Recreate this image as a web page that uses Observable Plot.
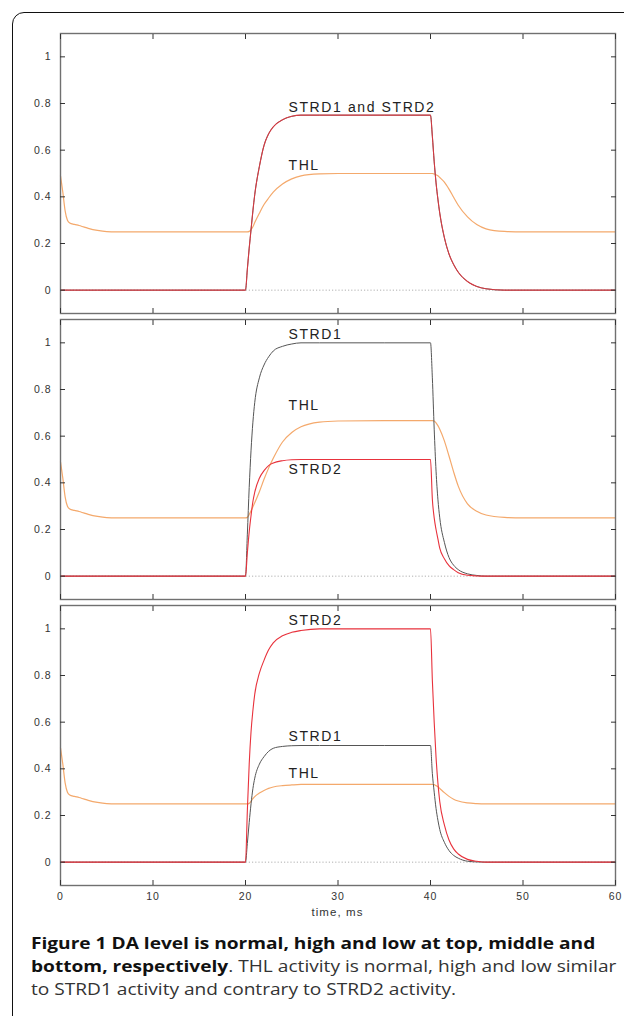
<!DOCTYPE html>
<html>
<head>
<meta charset="utf-8">
<script src="https://cdn.jsdelivr.net/npm/d3@7"></script>
<script src="https://cdn.jsdelivr.net/npm/@observablehq/plot@0.6"></script>
<style>
  html, body { margin: 0; padding: 0; background: #fff; }
  body { width: 624px; height: 1016px; overflow: hidden; position: relative; font-family: "Liberation Sans", Arial, sans-serif; }
  #border { position: absolute; left: 12px; top: 12px; width: 720px; height: 1100px; border: 1.6px solid #111; border-radius: 12px; box-sizing: border-box; }
  .panel { position: absolute; left: 0; }
  .panel svg { background: transparent !important; overflow: visible; }
  .panel g[aria-label="text"] text { letter-spacing: 1.6px; }
  .panel g[aria-label="y-axis tick label"] text,
  .panel g[aria-label="x-axis tick label"] text { letter-spacing: 1px; }
  #xlabel { position: absolute; left: 60px; width: 555px; top: 906px; text-align: center; font-size: 11.5px; letter-spacing: 1.1px; color: #333; }
  #caption { position: absolute; left: 31px; top: 931px; font-family: "Open Sans", sans-serif; font-size: 16.5px; line-height: 23px; color: #333; transform-origin: 0 0; white-space: nowrap; }
  #caption b { color: #111; font-weight: 700; }
</style>
</head>
<body>
<div id="border"></div>
<div id="p1" class="panel" style="top:23px"></div>
<div id="p2" class="panel" style="top:316px"></div>
<div id="p3" class="panel" style="top:601px"></div>
<div id="xlabel">time, ms</div>
<div id="caption">
  <div id="cl1"><b>Figure 1 DA level is normal, high and low at top, middle and</b></div>
  <div><b>bottom, respectively</b>. THL activity is normal, high and low similar</div>
  <div>to STRD1 activity and contrary to STRD2 activity.</div>
</div>
<script>
// time axis, ms
const time = [0, 0.25, 0.5, 0.75, 1, 1.5, 2, 2.5, 3, 4, 5, 6, 10, 15, 20,
  20.2, 20.4, 20.6, 20.8, 21, 21.5, 22, 22.5, 23, 24, 25, 26,
  28, 30, 35, 40,
  40.2, 40.4, 40.6, 40.8, 41, 41.5, 42, 42.5, 43, 44, 45, 46, 48, 50, 55, 60];

// Top panel: normal DA
const topSTRD1 = [0,0,0,0,0,0,0,0,0,0,0,0,0,0,0,
  0.09,0.18,0.26,0.34,0.41,0.53,0.62,0.67,0.70,0.73,0.745,0.75,
  0.75,0.75,0.75,0.75,
  0.66,0.55,0.46,0.39,0.33,0.225,0.155,0.11,0.077,0.037,0.016,0.006,0,0,0,0];
const topSTRD2 = [0,0,0,0,0,0,0,0,0,0,0,0,0,0,0,
  0.09,0.18,0.26,0.34,0.41,0.53,0.62,0.67,0.70,0.73,0.745,0.75,
  0.75,0.75,0.75,0.75,
  0.66,0.55,0.46,0.39,0.33,0.225,0.155,0.11,0.077,0.037,0.016,0.006,0,0,0,0];
const topTHL = [0.49,0.42,0.34,0.30,0.288,0.282,0.277,0.271,0.265,0.256,0.251,0.25,0.25,0.25,0.25,
  0.25,0.252,0.26,0.272,0.29,0.33,0.367,0.395,0.42,0.455,0.477,0.49,
  0.498,0.5,0.5,0.5,
  0.5,0.498,0.495,0.49,0.483,0.463,0.433,0.398,0.364,0.314,0.281,0.263,0.252,0.25,0.25,0.25];

// Middle panel: high DA
const midSTRD1 = [0,0,0,0,0,0,0,0,0,0,0,0,0,0,0,
  0.18,0.38,0.54,0.66,0.745,0.85,0.905,0.94,0.965,0.985,0.995,1,
  1,1,1,1,
  0.85,0.63,0.45,0.33,0.25,0.145,0.08,0.047,0.028,0.01,0.003,0,0,0,0,0];
const midSTRD2 = [0,0,0,0,0,0,0,0,0,0,0,0,0,0,0,
  0.1,0.19,0.26,0.32,0.36,0.42,0.452,0.474,0.485,0.495,0.499,0.5,
  0.5,0.5,0.5,0.5,
  0.33,0.25,0.2,0.16,0.12,0.075,0.045,0.028,0.015,0.004,0.001,0,0,0,0,0];
const midTHL = [0.49,0.42,0.34,0.30,0.288,0.282,0.277,0.271,0.265,0.256,0.251,0.25,0.25,0.25,0.25,
  0.252,0.265,0.28,0.298,0.315,0.362,0.415,0.463,0.505,0.575,0.616,0.64,
  0.66,0.665,0.667,0.667,
  0.667,0.665,0.657,0.645,0.63,0.58,0.515,0.447,0.386,0.31,0.278,0.262,0.252,0.25,0.25,0.25];

// Bottom panel: low DA
const botSTRD1 = [0,0,0,0,0,0,0,0,0,0,0,0,0,0,0,
  0.08,0.17,0.25,0.315,0.36,0.42,0.452,0.475,0.488,0.496,0.499,0.5,
  0.5,0.5,0.5,0.5,
  0.38,0.3,0.23,0.18,0.14,0.085,0.05,0.029,0.017,0.004,0.001,0,0,0,0,0];
const botSTRD2 = [0,0,0,0,0,0,0,0,0,0,0,0,0,0,0,
  0.22,0.42,0.56,0.65,0.72,0.81,0.865,0.91,0.94,0.97,0.985,0.993,
  1,1,1,1,
  0.78,0.6,0.45,0.34,0.26,0.16,0.095,0.057,0.035,0.012,0.004,0,0,0,0,0];
const botTHL = [0.49,0.42,0.34,0.30,0.288,0.282,0.277,0.271,0.265,0.256,0.251,0.25,0.25,0.25,0.25,
  0.25,0.252,0.261,0.272,0.281,0.296,0.307,0.316,0.322,0.328,0.331,0.333,
  0.333,0.333,0.333,0.333,
  0.333,0.332,0.328,0.323,0.316,0.298,0.282,0.27,0.262,0.254,0.251,0.25,0.25,0.25,0.25,0.25];

// curve labels
const topLabels = [{t: 24.65, v: 0.784, text: "STRD1 and STRD2"}, {t: 24.65, v: 0.536, text: "THL"}];
const midLabels = [{t: 24.65, v: 1.036, text: "STRD1"}, {t: 24.65, v: 0.732, text: "THL"}, {t: 24.65, v: 0.457, text: "STRD2"}];
const botLabels = [{t: 24.65, v: 1.036, text: "STRD2"}, {t: 24.65, v: 0.539, text: "STRD1"}, {t: 24.65, v: 0.381, text: "THL"}];

// ticks
const xTicks = [0, 10, 20, 30, 40, 50, 60];
const xTickLabels = ["0", "10", "20", "30", "40", "50", "60"];
const yTicks = [0, 0.2, 0.4, 0.6, 0.8, 1];
const yTickLabels = ["0", "0.2", "0.4", "0.6", "0.8", "1"];

const RED = "#e8323c", GRAY = "#555555", ORANGE = "#f4a96c";

function panel(el, s1, s2, thl, labels, {marginTop, marginBottom, xLabels, overlap}) {
  const data = time.map((t, i) => ({t, s1: s1[i], s2: s2[i], h: thl[i]}));
  const marks = [
    Plot.ruleY([0], {stroke: "#9a9a9a", strokeDasharray: "1.2,2", strokeWidth: 0.8}),
    Plot.lineY(data, {x: "t", y: "h", stroke: ORANGE, strokeWidth: 1.2, curve: "monotone-x"}),
    Plot.lineY(data, {x: "t", y: "s1", stroke: GRAY, strokeWidth: 1, curve: "monotone-x"}),
    Plot.lineY(data, {x: "t", y: "s2", stroke: RED, strokeWidth: 1.1, strokeOpacity: overlap ? 0.85 : 1, curve: "monotone-x"}),
    Plot.text(labels, {x: "t", y: "v", text: "text", textAnchor: "start", fontSize: 14, fill: "#222"}),
    Plot.frame({stroke: "#707070", strokeWidth: 1.4}),
    Plot.axisY(yTicks, {anchor: "left", tickSize: 0, tickPadding: 9, fontSize: 10.5, label: null,
      tickFormat: d => yTickLabels[yTicks.indexOf(d)]}),
    Plot.axisY(yTicks, {anchor: "left", tickSize: 5, dx: 5, label: null, tickFormat: () => ""}),
    Plot.axisY(yTicks, {anchor: "right", tickSize: 5, dx: -5, label: null, tickFormat: () => ""}),
    Plot.axisX(xTicks, {anchor: "top", tickSize: 5, dy: 5, label: null, tickFormat: () => ""}),
    Plot.axisX(xTicks, {anchor: "bottom", tickSize: 5, dy: -5, label: null, tickFormat: () => ""})
  ];
  if (xLabels) {
    marks.push(Plot.axisX(xTicks, {anchor: "bottom", tickSize: 0, tickPadding: 7, fontSize: 10.5, label: null,
      tickFormat: d => xTickLabels[xTicks.indexOf(d)]}));
  }
  const chart = Plot.plot({
    width: 624,
    height: marginTop + 280 + marginBottom,
    marginLeft: 60, marginRight: 9, marginTop, marginBottom,
    x: {domain: [0, 60]},
    y: {domain: [-0.1, 1.1]},
    style: {fontFamily: "'Liberation Sans', Arial, sans-serif", color: "#333", background: "transparent"},
    marks
  });
  document.getElementById(el).appendChild(chart);
}

panel("p1", topSTRD1, topSTRD2, topTHL, topLabels, {marginTop: 10, marginBottom: 3, xLabels: false, overlap: true});
panel("p2", midSTRD1, midSTRD2, midTHL, midLabels, {marginTop: 3, marginBottom: 3, xLabels: false, overlap: false});
panel("p3", botSTRD1, botSTRD2, botTHL, botLabels, {marginTop: 4, marginBottom: 25, xLabels: true, overlap: false});

// fit caption width to the reference text block
const cap = document.getElementById("caption");
const l1 = document.getElementById("cl1");
const w = l1.scrollWidth;
const s = 585 / w;
cap.style.transform = `scaleX(${s})`;
</script>
</body>
</html>
